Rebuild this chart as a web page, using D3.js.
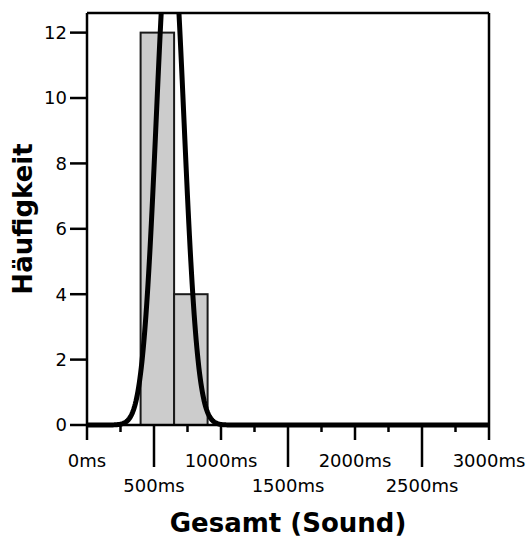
<!DOCTYPE html>
<html>
<head>
<meta charset="utf-8">
<script src="https://cdn.jsdelivr.net/npm/d3@7"></script>
<style>
body { margin: 0; background: #fff; }
text { font-family: "DejaVu Sans", sans-serif; fill: #000; }
</style>
</head>
<body>
<svg width="529" height="541"></svg>
<script>
// histogram: bin starts (ms), bin width, counts
const binStarts = [400, 650];
const binWidth = 250;
const binCounts = [12, 4];

// fitted normal curve
const curveMean = 620;
const curveSd = 103;
const sampleSize = 16;

const xTicks = [0, 250, 500, 750, 1000, 1250, 1500, 1750, 2000, 2250, 2500, 2750, 3000];
const xLabelTicks = [0, 500, 1000, 1500, 2000, 2500, 3000];
const yTicks = [0, 2, 4, 6, 8, 10, 12];

function drawChart() {
    var svg = d3.select("svg");
    var margin = {top: 13, right: 40, bottom: 116, left: 87};
    var width = 529 - margin.left - margin.right;
    var height = 541 - margin.top - margin.bottom;

    var x = d3.scaleLinear().domain([0, 3000]).range([0, width]);
    var y = d3.scaleLinear().domain([0, 12.6]).range([height, 0]);

    var g = svg.append("g")
        .attr("transform", "translate(" + margin.left + "," + margin.top + ")");

    g.append("clipPath").attr("id", "plotclip")
        .append("rect")
        .attr("x", 0).attr("y", 0)
        .attr("width", width).attr("height", height + 4);

    var bins = binStarts.map((s, i) => ({x0: s, x1: s + binWidth, n: binCounts[i]}));

    g.append("g")
        .selectAll("rect")
        .data(bins)
        .enter()
        .append("rect")
        .attr("x", d => x(d.x0))
        .attr("y", d => y(d.n))
        .attr("width", d => x(d.x1) - x(d.x0))
        .attr("height", d => y(0) - y(d.n))
        .attr("fill", "#cccccc")
        .attr("stroke", "#1a1a1a")
        .attr("stroke-width", 2);

    // normal density scaled to counts
    var pts = d3.range(0, 3001, 5).map(function(v) {
        var z = (v - curveMean) / curveSd;
        return [v, sampleSize * binWidth / (curveSd * Math.sqrt(2 * Math.PI)) * Math.exp(-0.5 * z * z)];
    });

    var line = d3.line().x(d => x(d[0])).y(d => y(d[1]));

    // frame: top and right
    g.append("line").attr("x1", 0).attr("x2", width).attr("y1", 0).attr("y2", 0)
        .attr("stroke", "#000").attr("stroke-width", 2.5);
    g.append("line").attr("x1", width).attr("x2", width).attr("y1", 0).attr("y2", height)
        .attr("stroke", "#000").attr("stroke-width", 2.5);

    // x axis
    var xAxis = g.append("g").attr("transform", "translate(0," + height + ")");
    xAxis.append("line").attr("x1", 0).attr("x2", width)
        .attr("stroke", "#000").attr("stroke-width", 2.5);
    xAxis.selectAll("line.tick")
        .data(xTicks)
        .enter()
        .append("line")
        .attr("class", "tick")
        .attr("x1", d => x(d)).attr("x2", d => x(d))
        .attr("y1", 0)
        .attr("y2", function(d) {
            if (d % 1000 === 0) return 15;
            if (d % 500 === 0) return 42;
            return 7;
        })
        .attr("stroke", "#000").attr("stroke-width", 2.5);
    xAxis.selectAll("text")
        .data(xLabelTicks)
        .enter()
        .append("text")
        .attr("x", d => x(d))
        .attr("y", d => d % 1000 === 0 ? 41.5 : 67)
        .attr("text-anchor", "middle")
        .style("font-size", "18px")
        .text(d => d + "ms");

    // y axis
    var yAxis = g.append("g");
    yAxis.append("line").attr("y1", 0).attr("y2", height)
        .attr("stroke", "#000").attr("stroke-width", 2.5);
    yAxis.selectAll("line.tick")
        .data(yTicks)
        .enter()
        .append("line")
        .attr("class", "tick")
        .attr("x1", -17).attr("x2", 0)
        .attr("y1", d => y(d)).attr("y2", d => y(d))
        .attr("stroke", "#000").attr("stroke-width", 2.5);
    yAxis.selectAll("text")
        .data(yTicks)
        .enter()
        .append("text")
        .attr("x", -20)
        .attr("y", d => y(d))
        .attr("dy", "0.36em")
        .attr("text-anchor", "end")
        .style("font-size", "18px")
        .text(d => d);

    g.append("path")
        .datum(pts)
        .attr("d", line)
        .attr("clip-path", "url(#plotclip)")
        .attr("fill", "none")
        .attr("stroke", "#000")
        .attr("stroke-width", 5)
        .attr("stroke-linejoin", "round");

    // titles
    svg.append("text")
        .attr("x", margin.left + width / 2)
        .attr("y", 532)
        .attr("text-anchor", "middle")
        .style("font-size", "26px")
        .style("font-weight", "bold")
        .text("Gesamt (Sound)");

    svg.append("text")
        .attr("transform", "translate(32," + (margin.top + height / 2) + ") rotate(-90)")
        .attr("text-anchor", "middle")
        .style("font-size", "26px")
        .style("font-weight", "bold")
        .text("Häufigkeit");
}

drawChart();
</script>
</body>
</html>
